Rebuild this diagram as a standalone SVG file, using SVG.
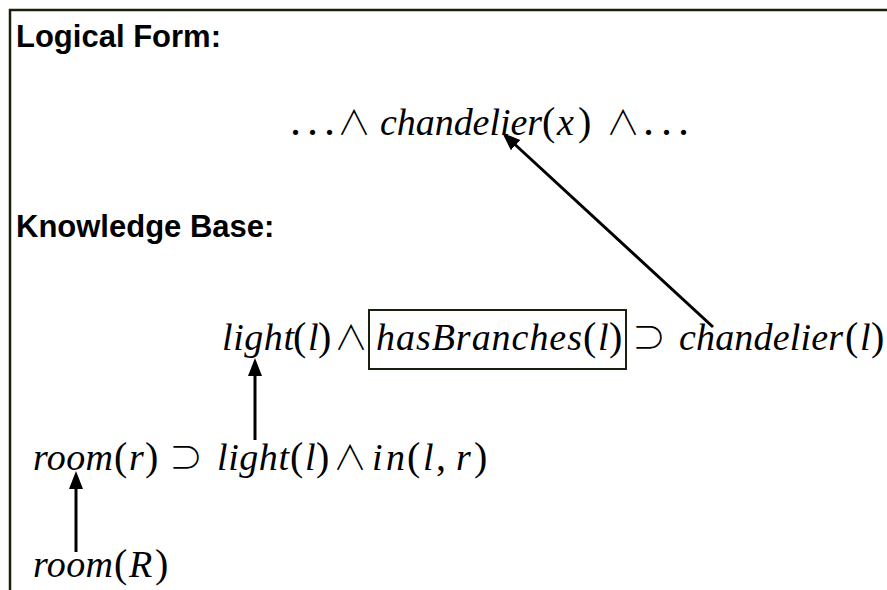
<svg xmlns="http://www.w3.org/2000/svg" width="887" height="590" viewBox="0 0 887 590">
<style>
.lbl{font-family:"Liberation Sans",Arial,sans-serif;font-weight:bold;font-size:31px;fill:#000}
.m{font-family:"Liberation Serif","DejaVu Serif",serif;font-style:italic;font-size:38px;fill:#000}
.p{font-family:"Liberation Serif","DejaVu Serif",serif;font-style:normal;font-size:40px;fill:#000}
.d{font-family:"Liberation Serif","DejaVu Serif",serif;font-size:44px;fill:#000}
.op{font-family:"Noto Sans CJK SC","DejaVu Sans",sans-serif;font-weight:300;font-size:34px;fill:#000;text-anchor:middle}
.frame{fill:none;stroke:#18200f;stroke-width:2.5}
.box{fill:none;stroke:#18200f;stroke-width:2}
.arr{stroke:#000;stroke-width:3;fill:none;marker-end:url(#ah)}
</style>
<defs>
<marker id="ah" markerUnits="userSpaceOnUse" markerWidth="20" markerHeight="16" refX="9" refY="7" orient="auto">
<path d="M0,0 L18,7 L0,14 z" fill="#000"/>
</marker>
</defs>
<rect class="frame" x="10" y="10" width="900" height="600"/>
<g id="label-logical-form"><text class="lbl" x="16" y="47">Logical Form:</text></g>
<g id="label-knowledge-base"><text class="lbl" x="16" y="237">Knowledge Base:</text></g>
<g id="logical-form">
<text class="d" x="290 307 324" y="135">...</text>
<text class="op" x="354" y="135">∧</text>
<text class="m" x="380" y="135" textLength="162" lengthAdjust="spacing">chandelier</text>
<text class="p" x="542" y="135">(</text>
<text class="m" x="557" y="135">x</text>
<text class="p" x="578" y="135">)</text>
<text class="op" x="623" y="135">∧</text>
<text class="d" x="643 661 678" y="135">...</text>
</g>
<g id="rule-chandelier">
<text class="m" x="222" y="350" textLength="72" lengthAdjust="spacing">light</text>
<text class="p" x="293" y="350">(</text>
<text class="m" x="308" y="350">l</text>
<text class="p" x="318" y="350">)</text>
<text class="op" x="351" y="350">∧</text>
<rect class="box" x="369" y="310" width="257" height="59"/>
<text class="m" x="376" y="350" textLength="206" lengthAdjust="spacing">hasBranches</text>
<text class="p" x="583" y="350">(</text>
<text class="m" x="598" y="350">l</text>
<text class="p" x="609" y="350">)</text>
<text class="op" x="649" y="350">⊃</text>
<text class="m" x="679" y="350" textLength="164" lengthAdjust="spacing">chandelier</text>
<text class="p" x="845" y="350">(</text>
<text class="m" x="860" y="350">l</text>
<text class="p" x="871" y="350">)</text>
</g>
<g id="rule-room">
<text class="m" x="33" y="470" textLength="80" lengthAdjust="spacing">room</text>
<text class="p" x="114" y="470">(</text>
<text class="m" x="129" y="470">r</text>
<text class="p" x="145" y="470">)</text>
<text class="op" x="186" y="470">⊃</text>
<text class="m" x="217" y="470" textLength="72" lengthAdjust="spacing">light</text>
<text class="p" x="290" y="470">(</text>
<text class="m" x="305" y="470">l</text>
<text class="p" x="316" y="470">)</text>
<text class="op" x="350" y="470">∧</text>
<text class="m" x="372" y="470" textLength="33" lengthAdjust="spacing">in</text>
<text class="p" x="407" y="470">(</text>
<text class="m" x="423" y="470">l</text>
<text class="p" x="436" y="470">,</text>
<text class="m" x="456" y="470">r</text>
<text class="p" x="474" y="470">)</text>
</g>
<g id="fact-room">
<text class="m" x="33" y="577" textLength="80" lengthAdjust="spacing">room</text>
<text class="p" x="114" y="577">(</text>
<text class="m" x="129" y="577" textLength="25" lengthAdjust="spacing">R</text>
<text class="p" x="155" y="577">)</text>
</g>
<g id="connectors">
<line class="arr" x1="713" y1="327" x2="509" y2="139"/>
<line class="arr" x1="255" y1="440" x2="255" y2="367"/>
<line class="arr" x1="76" y1="552" x2="76" y2="480"/>
</g>
</svg>
